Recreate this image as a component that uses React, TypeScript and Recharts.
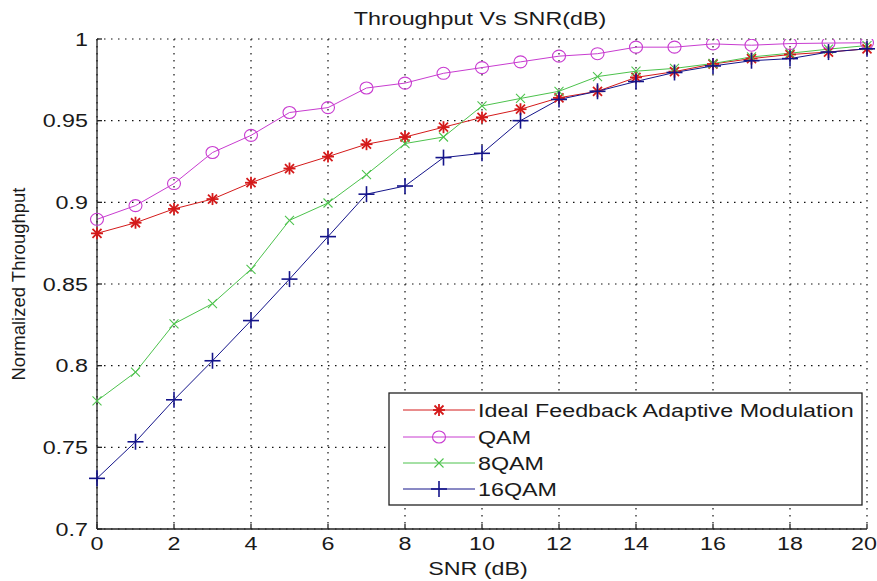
import React from "react";
import { LineChart, Line, XAxis, YAxis, CartesianGrid } from "recharts";

const snr = [0, 1, 2, 3, 4, 5, 6, 7, 8, 9, 10, 11, 12, 13, 14, 15, 16, 17, 18, 19, 20];
const ideal = [0.881, 0.8875, 0.896, 0.902, 0.912, 0.9207, 0.928, 0.9356, 0.94, 0.946, 0.952, 0.957, 0.964, 0.968, 0.9765, 0.98, 0.9847, 0.988, 0.9905, 0.992, 0.994];
const qam = [0.8896, 0.898, 0.9115, 0.9305, 0.941, 0.955, 0.958, 0.97, 0.973, 0.979, 0.9825, 0.986, 0.9895, 0.991, 0.995, 0.995, 0.997, 0.9962, 0.9972, 0.9975, 0.9977];
const qam8 = [0.7785, 0.796, 0.8256, 0.838, 0.859, 0.889, 0.8996, 0.917, 0.936, 0.94, 0.959, 0.9636, 0.968, 0.977, 0.9803, 0.982, 0.985, 0.989, 0.9913, 0.9938, 0.996];
const qam16 = [0.731, 0.7534, 0.7791, 0.803, 0.8276, 0.853, 0.879, 0.905, 0.91, 0.9274, 0.93, 0.95, 0.963, 0.968, 0.974, 0.9795, 0.9835, 0.9867, 0.988, 0.992, 0.994];

const xTicks = [0, 2, 4, 6, 8, 10, 12, 14, 16, 18, 20];
const yTicks = [0.7, 0.75, 0.8, 0.85, 0.9, 0.95, 1];
const yTickLabels = ["0.7", "0.75", "0.8", "0.85", "0.9", "0.95", "1"];

const seriesNames = ["Ideal Feedback Adaptive Modulation", "QAM", "8QAM", "16QAM"];
const seriesKeys = ["ideal", "qam", "qam8", "qam16"];
const seriesColors = ["#d41a1a", "#c83cd0", "#4cc24c", "#14148a"];
const seriesMarkers = ["star", "circle", "x", "plus"];

const data = snr.map((s, i) => ({
  snr: s,
  ideal: ideal[i],
  qam: qam[i],
  qam8: qam8[i],
  qam16: qam16[i],
}));

const FONT = "'Liberation Sans', Arial, Helvetica, sans-serif";
const FS = 18.5;
const SX = 1.26;
const TXT = "#1a1a1a";

function Marker({ kind, cx, cy, color }: { kind: string; cx: number; cy: number; color: string }) {
  if (cx == null || cy == null || isNaN(cx) || isNaN(cy)) return <g />;
  if (kind === "circle") {
    return <ellipse cx={cx} cy={cy} rx={6.5} ry={6} fill="none" stroke={color} strokeWidth={1.1} />;
  }
  if (kind === "x") {
    const r = 4.5;
    return (
      <g stroke={color} strokeWidth={1.1}>
        <line x1={cx - r} y1={cy - r} x2={cx + r} y2={cy + r} />
        <line x1={cx - r} y1={cy + r} x2={cx + r} y2={cy - r} />
      </g>
    );
  }
  if (kind === "plus") {
    const r = 8;
    return (
      <g stroke={color} strokeWidth={1.6}>
        <line x1={cx - r} y1={cy} x2={cx + r} y2={cy} />
        <line x1={cx} y1={cy - r} x2={cx} y2={cy + r} />
      </g>
    );
  }
  const r = 6;
  const d = 4.5;
  return (
    <g stroke={color} strokeWidth={1.8}>
      <line x1={cx - r} y1={cy} x2={cx + r} y2={cy} />
      <line x1={cx} y1={cy - r} x2={cx} y2={cy + r} />
      <line x1={cx - d} y1={cy - d} x2={cx + d} y2={cy + d} />
      <line x1={cx - d} y1={cy + d} x2={cx + d} y2={cy - d} />
    </g>
  );
}

const XTick = (props: any) => {
  const { x, y, payload } = props;
  const isLast = payload.value === xTicks[xTicks.length - 1];
  return (
    <text
      transform={`translate(${isLast ? x - 3 : x},${y}) scale(${SX},1)`}
      textAnchor="middle"
      dy="0.71em"
      fontFamily={FONT}
      fontSize={FS}
      fill={TXT}
    >
      {payload.value}
    </text>
  );
};

const YTick = (props: any) => {
  const { x, y, payload } = props;
  const idx = yTicks.findIndex((t) => Math.abs(t - payload.value) < 1e-6);
  const label = idx >= 0 ? yTickLabels[idx] : String(payload.value);
  return (
    <text
      transform={`translate(${x},${y}) scale(${SX},1)`}
      textAnchor="end"
      dy="0.355em"
      fontFamily={FONT}
      fontSize={FS}
      fill={TXT}
    >
      {label}
    </text>
  );
};

const EmptyTick = () => <g />;

function LegendBox() {
  const left = 389;
  const top = 393;
  const w = 473;
  const h = 112;
  const rows = [410, 437, 463, 489];
  return (
    <g>
      <rect x={left} y={top} width={w} height={h} fill="#fff" stroke="#222" strokeWidth={1.3} />
      {seriesNames.map((name, i) => (
        <g key={name}>
          <line x1={403} x2={475} y1={rows[i]} y2={rows[i]} stroke={seriesColors[i]} strokeWidth={1} />
          <Marker kind={seriesMarkers[i]} cx={439} cy={rows[i]} color={seriesColors[i]} />
          <text
            transform={`translate(478,${rows[i]}) scale(${SX},1)`}
            dy="0.355em"
            fontFamily={FONT}
            fontSize={FS}
            fill={TXT}
          >
            {name}
          </text>
        </g>
      ))}
    </g>
  );
}

export default function App() {
  return (
    <div style={{ position: "absolute", left: 0, top: 0, width: 877, height: 581, background: "#fff" }}>
      <LineChart
        width={877}
        height={581}
        data={data}
        margin={{ top: 39, right: 10, bottom: 22, left: 37 }}
      >
        <CartesianGrid stroke="#111" strokeDasharray="1.5 5.5" strokeWidth={1.2} />
        <XAxis
          dataKey="snr"
          type="number"
          domain={[0, 20]}
          ticks={xTicks}
          height={30}
          tickSize={-5}
          tickMargin={13}
          stroke="#222"
          strokeWidth={1.3}
          tick={<XTick />}
          interval={0}
        />
        <XAxis
          xAxisId="top"
          orientation="top"
          dataKey="snr"
          type="number"
          domain={[0, 20]}
          ticks={xTicks}
          height={0}
          tickSize={-5}
          stroke="#222"
          strokeWidth={1.3}
          tick={<EmptyTick />}
          interval={0}
        />
        <YAxis
          type="number"
          domain={[0.7, 1]}
          ticks={yTicks}
          width={60}
          tickSize={-5}
          tickMargin={14}
          stroke="#222"
          strokeWidth={1.3}
          tick={<YTick />}
          interval={0}
          allowDataOverflow
        />
        <YAxis
          yAxisId="right"
          orientation="right"
          type="number"
          domain={[0.7, 1]}
          ticks={yTicks}
          width={0}
          tickSize={-5}
          stroke="#222"
          strokeWidth={1.3}
          tick={<EmptyTick />}
          interval={0}
        />
        {seriesKeys.map((k, i) => (
          <Line
            key={k}
            dataKey={k}
            name={seriesNames[i]}
            type="linear"
            stroke={seriesColors[i]}
            strokeWidth={1}
            isAnimationActive={false}
            dot={(p: any) => <Marker key={`${k}-${p.index}`} kind={seriesMarkers[i]} cx={p.cx} cy={p.cy} color={seriesColors[i]} />}
            activeDot={false}
          />
        ))}
      </LineChart>
      <svg
        width={877}
        height={581}
        style={{ position: "absolute", left: 0, top: 0, pointerEvents: "none" }}
      >
        <text
          transform={`translate(480,25) scale(${SX},1)`}
          textAnchor="middle"
          fontFamily={FONT}
          fontSize={FS}
          fill={TXT}
        >
          Throughput Vs SNR(dB)
        </text>
        <text
          transform={`translate(478,575) scale(${SX},1)`}
          textAnchor="middle"
          fontFamily={FONT}
          fontSize={FS}
          fill={TXT}
        >
          SNR (dB)
        </text>
        <text
          transform="translate(25,284) rotate(-90)"
          textAnchor="middle"
          fontFamily={FONT}
          fontSize={FS}
          fill={TXT}
        >
          Normalized Throughput
        </text>
        <LegendBox />
      </svg>
    </div>
  );
}
